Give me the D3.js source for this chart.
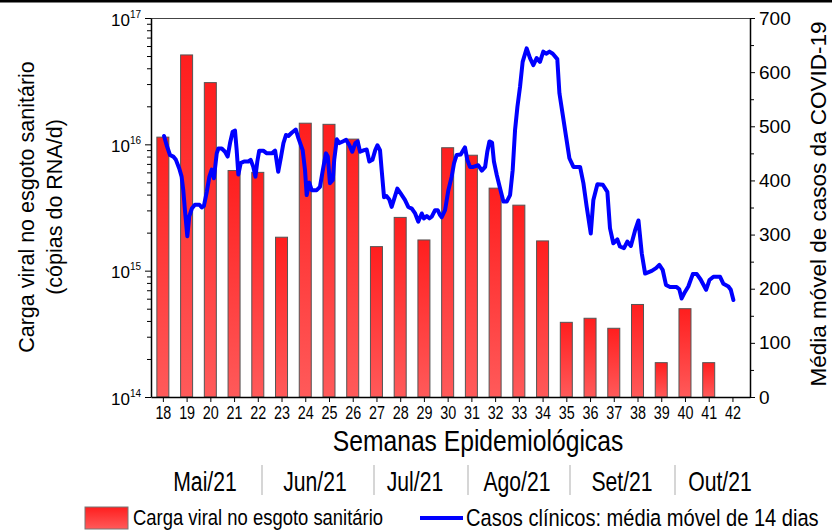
<!DOCTYPE html>
<html><head><meta charset="utf-8">
<script src="https://cdn.jsdelivr.net/npm/d3@7"></script>
<style>
html,body{margin:0;padding:0;background:#fff;}
svg{display:block;font-family:"Liberation Sans",Arial,sans-serif;}
</style></head>
<body>
<svg id="c" width="832" height="532"></svg>
<script>
// ---- data ----
const weeks = [18,19,20,21,22,23,24,25,26,27,28,29,30,31,32,33,34,35,36,37,38,39,40,41];
const viralLoad = [1.14e16,5.1e16,3.08e16,6.2e15,6.0e15,1.84e15,1.47e16,1.44e16,1.1e16,1.55e15,2.64e15,1.75e15,
  9.4e15,8.2e15,4.5e15,3.3e15,1.72e15,3.9e14,4.2e14,3.5e14,5.4e14,1.87e14,5.0e14,1.87e14];
const tickWeeks = [18,19,20,21,22,23,24,25,26,27,28,29,30,31,32,33,34,35,36,37,38,39,40,41,42];
const lineWeeks = [18.05,18.16,18.30,18.44,18.55,18.69,18.79,18.86,18.93,19.03,19.11,19.22,19.35,19.54,19.64,19.73,19.85,19.96,
  20.06,20.15,20.27,20.34,20.48,20.62,20.73,20.83,20.94,21.04,21.11,21.18,21.28,21.42,21.60,21.70,21.81,21.90,21.98,
  22.06,22.23,22.38,22.59,22.73,22.86,22.98,23.08,23.19,23.29,23.43,23.60,23.71,23.89,23.99,24.06,24.17,24.27,24.48,
  24.62,24.74,24.87,24.95,25.04,25.16,25.22,25.33,25.44,25.58,25.72,25.86,25.98,26.11,26.21,26.31,26.48,26.59,26.70,
  26.83,26.95,27.04,27.15,27.22,27.32,27.43,27.54,27.64,27.74,27.88,28.02,28.20,28.34,28.49,28.63,28.76,28.91,29.00,
  29.12,29.23,29.33,29.47,29.58,29.68,29.75,29.89,30.03,30.17,30.27,30.38,30.55,30.66,30.73,30.83,30.94,31.08,31.29,
  31.44,31.58,31.67,31.76,31.87,31.95,32.07,32.21,32.35,32.49,32.63,32.74,32.84,32.94,33.05,33.16,33.33,33.47,33.61,
  33.75,33.89,34.03,34.15,34.29,34.43,34.62,34.71,34.85,34.99,35.13,35.30,35.58,35.72,35.86,36.03,36.14,36.31,36.54,
  36.73,36.84,36.98,37.15,37.26,37.43,37.57,37.72,37.90,38.04,38.18,38.32,38.60,38.78,38.92,39.06,39.20,39.37,39.65,
  39.76,39.86,40.00,40.14,40.33,40.50,40.66,40.89,41.03,41.20,41.48,41.62,41.83,41.93,42.04];
const lineCases = [482,465,447,444,438,422,407,382,345,297,333,348,355,355,350,353,379,407,
  420,404,450,459,459,453,444,469,490,492,456,411,432,435,435,438,425,407,435,
  455,455,450,450,455,416,444,469,484,482,488,494,478,456,419,373,396,382,382,
  388,419,450,444,395,401,438,476,469,472,475,465,453,469,472,453,456,457,435,
  438,456,465,456,419,369,371,365,351,365,385,376,364,351,348,339,324,339,330,
  334,330,333,345,345,336,332,345,382,407,432,447,448,456,461,438,425,425,428,
  418,425,453,472,470,435,410,385,361,361,373,419,493,536,573,619,644,626,613,
  626,619,638,634,638,634,624,561,521,481,441,425,425,395,351,302,364,393,392,
  379,312,284,291,278,275,287,279,308,326,265,228,233,238,244,235,207,203,203,
  199,182,194,204,227,227,217,198,216,222,222,209,204,198,179];
const leftMajor = [1e14,1e15,1e16,1e17];
const leftExp = ["14","15","16","17"];
const rightTicks = [0,100,200,300,400,500,600,700];
const months = ["Mai/21","Jun/21","Jul/21","Ago/21","Set/21","Out/21"];
const monthPos = [205,315,415,517,622,720];
const monthSep = [262,374,468,570,675];
const leftTitle1 = "Carga viral no esgoto sanitário";
const leftTitle2 = "(cópias do RNA/d)";
const rightTitle = "Média móvel de casos da COVID-19";
const xTitle = "Semanas Epidemiológicas";
const legendBar = "Carga viral no esgoto sanitário";
const legendLine = "Casos clínicos: média móvel de 14 dias";

// ---- chart ----
const svg = d3.select("#c");
const L=151,R=750,T=18,B=397;
const x = d3.scaleLinear().domain([17.5,42.74]).range([L,R]);
const yL = d3.scaleLog().domain([1e14,1e17]).range([B,T]);
const yR = d3.scaleLinear().domain([0,700]).range([B,T]);

// condensed text helper (horizontal squeeze)
function ntext(parent, tx, ty, size, anchor, str, sx){
  return parent.append("text")
    .attr("transform",`translate(${tx},${ty}) scale(${sx||0.82},1)`)
    .attr("text-anchor",anchor).style("font-size",size+"px").attr("fill","#000").text(str);
}

const defs = svg.append("defs");
const g = defs.append("linearGradient").attr("id","barg").attr("x1",0).attr("y1",0).attr("x2",0).attr("y2",1);
g.append("stop").attr("offset","0%").attr("stop-color","#ff1e1e");
g.append("stop").attr("offset","100%").attr("stop-color","#ff5a5a");

svg.append("rect").attr("x",0).attr("y",0).attr("width",832).attr("height",2.5).attr("fill","#000");

// frame top
svg.append("line").attr("x1",L).attr("x2",R).attr("y1",T+0.5).attr("y2",T+0.5).attr("stroke","#444").attr("stroke-width",1);

// bars
const bw = 12;
svg.append("g").selectAll("rect").data(weeks).join("rect")
  .attr("x",(d)=>x(d)-bw/2).attr("width",bw)
  .attr("y",(d,i)=>yL(viralLoad[i])).attr("height",(d,i)=>B-yL(viralLoad[i]))
  .attr("fill","url(#barg)").attr("stroke","#555").attr("stroke-width",1);

// line
const pts = lineWeeks.map((w,i)=>[w,lineCases[i]]);
svg.append("path").datum(pts)
  .attr("d",d3.line().x(d=>x(d[0])).y(d=>yR(d[1])))
  .attr("fill","none").attr("stroke","#0000ff").attr("stroke-width",4)
  .attr("stroke-linejoin","round").attr("stroke-linecap","round");

// left axis
const minorL = [];
for (let e=14;e<17;e++) for (let m=2;m<10;m++) minorL.push(m*Math.pow(10,e));
svg.append("g").attr("transform",`translate(${L},0)`)
  .call(d3.axisLeft(yL).tickValues(minorL).tickSize(4).tickFormat(""))
  .call(s=>{s.select(".domain").remove(); s.selectAll("line").attr("stroke","#000");});
const axL = svg.append("g").attr("transform",`translate(${L},0)`)
  .call(d3.axisLeft(yL).tickValues(leftMajor).tickSize(6).tickSizeOuter(0).tickFormat(""));
axL.select(".domain").attr("stroke","#000").attr("stroke-width",1.5);
axL.selectAll(".tick").each(function(d,i){
  const t = d3.select(this).append("text").attr("x",-10).attr("y",7).attr("fill","#000")
    .attr("text-anchor","end").style("font-size","17px");
  t.append("tspan").text("10");
  t.append("tspan").attr("dy",-8).style("font-size","10px").text(leftExp[i]);
});

// right axis
const minorR = [50,150,250,350,450,550,650];
svg.append("g").attr("transform",`translate(${R},0)`)
  .call(d3.axisRight(yR).tickValues(minorR).tickSize(4).tickFormat(""))
  .call(s=>{s.select(".domain").remove(); s.selectAll("line").attr("stroke","#000");});
const axR = svg.append("g").attr("transform",`translate(${R},0)`)
  .call(d3.axisRight(yR).tickValues(rightTicks).tickSize(5).tickSizeOuter(0).tickPadding(4));
axR.select(".domain").attr("stroke","#000").attr("stroke-width",1.5);
axR.selectAll("text").style("font-size","19px").attr("fill","#000");

// bottom axis
const axB = svg.append("g").attr("transform",`translate(0,${B})`)
  .call(d3.axisBottom(x).tickValues(tickWeeks).tickSize(5).tickSizeOuter(0).tickFormat(""));
axB.select(".domain").attr("stroke","#000").attr("stroke-width",1.5);
axB.selectAll(".tick").each(function(d){
  ntext(d3.select(this), 0, 22, 17.5, "middle", String(d));
});

// titles
svg.append("text").attr("transform","translate(34,207) rotate(-90)").attr("text-anchor","middle")
  .style("font-size","21.5px").text(leftTitle1);
svg.append("text").attr("transform","translate(62,207) rotate(-90)").attr("text-anchor","middle")
  .style("font-size","21.5px").text(leftTitle2);
svg.append("text").attr("transform","translate(826,204) rotate(-90)").attr("text-anchor","middle")
  .style("font-size","22.5px").text(rightTitle);
ntext(svg, 478, 451, 29, "middle", xTitle, 0.85);

// months
months.forEach((m,i)=>ntext(svg, monthPos[i], 491, 27.5, "middle", m, 0.77));
svg.append("g").selectAll("line").data(monthSep).join("line")
  .attr("x1",d=>d).attr("x2",d=>d).attr("y1",465).attr("y2",495)
  .attr("stroke","#bbb").attr("stroke-width",1.2);

// legend
svg.append("rect").attr("x",85).attr("y",507).attr("width",43).attr("height",22)
  .attr("fill","url(#barg)").attr("stroke","#777").attr("stroke-width",1);
ntext(svg, 133, 525, 22.5, "start", legendBar);
svg.append("line").attr("x1",420).attr("x2",463).attr("y1",518).attr("y2",518)
  .attr("stroke","#0000ff").attr("stroke-width",4);
ntext(svg, 466, 526, 24.5, "start", legendLine);
</script>
</body></html>
